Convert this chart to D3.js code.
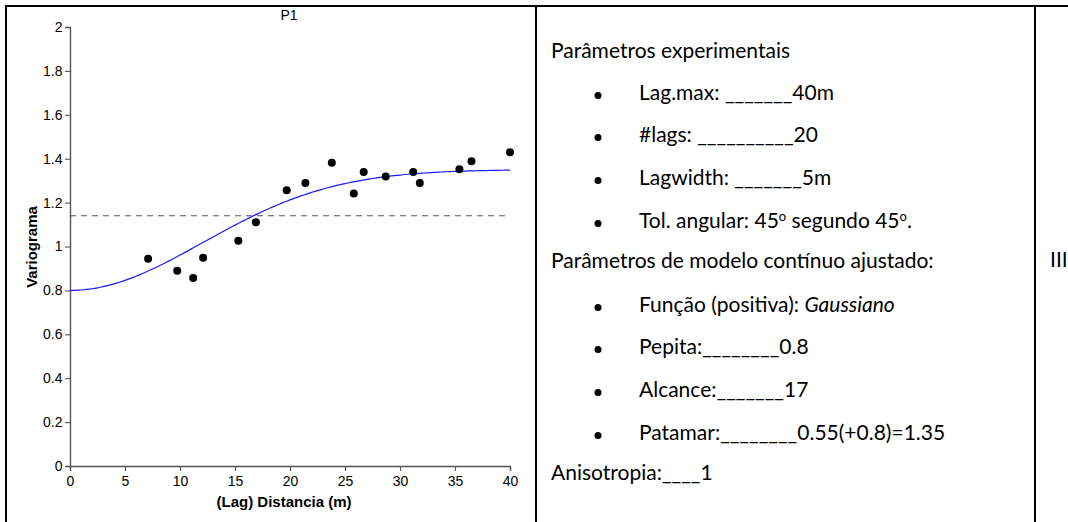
<!DOCTYPE html>
<html>
<head>
<meta charset="utf-8">
<script src="https://cdn.jsdelivr.net/npm/d3@7"></script>
<style>
html,body{margin:0;padding:0;background:#fff;}
svg{display:block;}
</style>
</head>
<body>
<svg id="c" width="1068" height="522"></svg>
<script>
// ---- data ----
const lags = [7.1, 9.75, 11.2, 12.1, 15.3, 16.9, 19.7, 21.4, 23.8, 25.8, 26.7, 28.7, 31.2, 31.8, 35.4, 36.5, 40.0];
const gammas = [0.944, 0.890, 0.856, 0.949, 1.026, 1.110, 1.256, 1.289, 1.382, 1.242, 1.339, 1.319, 1.339, 1.289, 1.352, 1.388, 1.429];
const sampleVariance = 1.14;
const nugget = 0.8, partialSill = 0.55, modelRange = 17;
const xTicks = [0, 5, 10, 15, 20, 25, 30, 35, 40];
const yTicks = [0, 0.2, 0.4, 0.6, 0.8, 1, 1.2, 1.4, 1.6, 1.8, 2];
const title = "P1";
const xLabel = "(Lag) Distancia (m)";
const yLabel = "Variograma";
const textLines = [
  {bullet:false, parts:[{t:"Parâmetros experimentais"}]},
  {bullet:true, parts:[{t:"Lag.max: _______40m"}]},
  {bullet:true, parts:[{t:"#lags: __________20"}]},
  {bullet:true, parts:[{t:"Lagwidth: _______5m"}]},
  {bullet:true, parts:[{t:"Tol. angular: 45"},{t:"o",sup:true},{t:" segundo 45"},{t:"o",sup:true},{t:"."}]},
  {bullet:false, parts:[{t:"Parâmetros de modelo contínuo ajustado:"}]},
  {bullet:true, parts:[{t:"Função (positiva): "},{t:"Gaussiano",it:true}]},
  {bullet:true, parts:[{t:"Pepita:________0.8"}]},
  {bullet:true, parts:[{t:"Alcance:_______17"}]},
  {bullet:true, parts:[{t:"Patamar:________0.55(+0.8)=1.35"}]},
  {bullet:false, parts:[{t:"Anisotropia:____1"}]}
];
const lineY = [58, 100, 142, 185, 228, 268, 312, 354, 397, 440, 480];
const sideLabel = "III";

// ---- layout ----
const svg = d3.select("#c");
const W = 1068, H = 522;

// table borders
svg.append("line").attr("x1",5).attr("x2",W).attr("y1",6).attr("y2",6).attr("stroke","#000").attr("stroke-width",2);
[6, 536, 1035].forEach(x=>{
  svg.append("line").attr("x1",x).attr("x2",x).attr("y1",5).attr("y2",H).attr("stroke","#000").attr("stroke-width",2);
});

// chart
const x = d3.scaleLinear().domain([0,40]).range([70,510]);
const y = d3.scaleLinear().domain([0,2]).range([466,27]);
const axisFont = "Liberation Sans, Arial, sans-serif";
const axisColor = "#555";

const gx = svg.append("g").attr("transform","translate(0,466)")
  .call(d3.axisBottom(x).tickValues(xTicks).tickSize(5).tickPadding(5).tickFormat(d3.format("d")));
const gy = svg.append("g").attr("transform","translate(70,0)")
  .call(d3.axisLeft(y).tickValues(yTicks).tickSize(5).tickPadding(2.5).tickFormat(d=>String(+d.toFixed(1))));
[gx,gy].forEach(g=>{
  g.attr("font-size",null);
  g.selectAll("path").attr("stroke",axisColor).attr("stroke-width",1.4);
  g.selectAll("line").attr("stroke",axisColor).attr("stroke-width",1.1);
  g.selectAll("text").attr("fill","#000").style("font-family",axisFont).style("font-size","14px");
});

// dashed sample variance line
svg.append("line").attr("x1",x(0)).attr("x2",x(39.6)).attr("y1",y(sampleVariance)).attr("y2",y(sampleVariance))
  .attr("stroke","#555").attr("stroke-width",1.2).attr("stroke-dasharray","6,5");

// Gaussian model curve
const hs = d3.range(0, 40.001, 0.25);
const model = h => nugget + partialSill*(1 - Math.exp(-(h*h)/(modelRange*modelRange)));
svg.append("path").datum(hs)
  .attr("d", d3.line().x(h=>x(h)).y(h=>y(model(h))))
  .attr("fill","none").attr("stroke","#1a1aff").attr("stroke-width",1.2);

// points
svg.append("g").selectAll("circle").data(lags).join("circle")
  .attr("cx",(d)=>x(d)).attr("cy",(d,i)=>y(gammas[i])).attr("r",4).attr("fill","#000");

// title & axis labels
svg.append("text").attr("x",289).attr("y",20).attr("text-anchor","middle")
  .style("font-family",axisFont).style("font-size","14px").text(title);
svg.append("text").attr("x",284).attr("y",507).attr("text-anchor","middle")
  .style("font-family",axisFont).style("font-size","15px").style("font-weight","bold").text(xLabel);
svg.append("text").attr("transform","translate(37,247) rotate(-90)").attr("text-anchor","middle")
  .style("font-family",axisFont).style("font-size","15px").style("font-weight","bold").text(yLabel);

// right text column
const txtFont = "Lato, 'Open Sans', sans-serif";
const tg = svg.append("g").style("font-family",txtFont).style("font-size","21px").attr("fill","#000");
textLines.forEach((ln,i)=>{
  const yy = lineY[i];
  if (ln.bullet) {
    tg.append("circle").attr("cx",598).attr("cy",yy-4.5).attr("r",3.5).attr("fill","#000");
  }
  const t = tg.append("text").attr("x", ln.bullet ? 639 : 551).attr("y", yy);
  ln.parts.forEach((p,j)=>{
    const ts = t.append("tspan").text(p.t);
    if (p.it) ts.style("font-style","italic");
    if (p.sup) ts.attr("dy",-7).style("font-size","13px");
    else if (j>0 && ln.parts[j-1].sup) ts.attr("dy",7);
  });
});
tg.append("text").attr("x",1050).attr("y",267).text(sideLabel);
</script>
</body>
</html>
